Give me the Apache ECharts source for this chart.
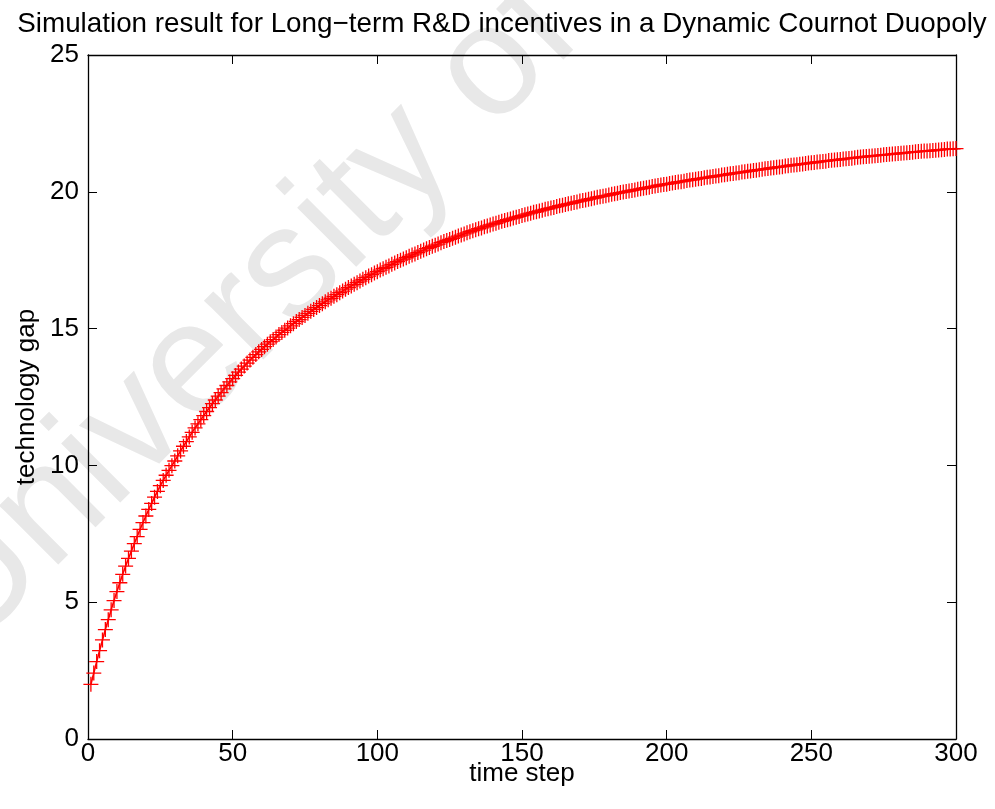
<!DOCTYPE html>
<html>
<head>
<meta charset="utf-8">
<title>Technology gap simulation</title>
<script src="https://cdn.jsdelivr.net/npm/echarts@6/dist/echarts.min.js"></script>
<style>
  html, body { margin: 0; padding: 0; background: #fff; }
  #chart { width: 995px; height: 809px; }
</style>
</head>
<body>
<div id="chart"></div>
<script>
// Technology gap at each simulated time step (steps 1..300)
const technologyGap = [
  2.00, 2.41, 2.83, 3.23, 3.62, 4.00, 4.36, 4.72, 5.06, 5.39,
  5.71, 6.02, 6.32, 6.60, 6.87, 7.14, 7.40, 7.66, 7.91, 8.15,
  8.39, 8.61, 8.84, 9.05, 9.26, 9.45, 9.64, 9.82, 9.99, 10.16,
  10.35, 10.53, 10.70, 10.87, 11.04, 11.21, 11.37, 11.52, 11.67, 11.82,
  11.97, 12.11, 12.26, 12.39, 12.53, 12.66, 12.80, 12.92, 13.05, 13.17,
  13.29, 13.41, 13.52, 13.63, 13.74, 13.85, 13.95, 14.05, 14.15, 14.24,
  14.34, 14.43, 14.52, 14.60, 14.69, 14.78, 14.86, 14.94, 15.02, 15.10,
  15.18, 15.26, 15.33, 15.41, 15.48, 15.56, 15.63, 15.70, 15.77, 15.84,
  15.91, 15.98, 16.05, 16.11, 16.18, 16.24, 16.31, 16.37, 16.44, 16.50,
  16.56, 16.62, 16.68, 16.74, 16.80, 16.86, 16.92, 16.97, 17.03, 17.08,
  17.14, 17.19, 17.24, 17.29, 17.35, 17.40, 17.45, 17.50, 17.54, 17.59,
  17.64, 17.69, 17.73, 17.78, 17.83, 17.87, 17.92, 17.96, 18.01, 18.05,
  18.09, 18.14, 18.18, 18.22, 18.26, 18.30, 18.34, 18.38, 18.42, 18.46,
  18.50, 18.54, 18.58, 18.61, 18.65, 18.68, 18.72, 18.75, 18.79, 18.82,
  18.85, 18.89, 18.92, 18.95, 18.98, 19.01, 19.04, 19.07, 19.10, 19.13,
  19.16, 19.19, 19.22, 19.25, 19.27, 19.30, 19.33, 19.36, 19.38, 19.41,
  19.43, 19.46, 19.49, 19.51, 19.54, 19.56, 19.58, 19.61, 19.63, 19.66,
  19.68, 19.70, 19.73, 19.75, 19.77, 19.80, 19.82, 19.84, 19.86, 19.88,
  19.91, 19.93, 19.95, 19.97, 19.99, 20.01, 20.03, 20.05, 20.07, 20.09,
  20.11, 20.13, 20.15, 20.17, 20.19, 20.21, 20.23, 20.25, 20.27, 20.28,
  20.30, 20.32, 20.34, 20.36, 20.37, 20.39, 20.41, 20.43, 20.44, 20.46,
  20.48, 20.49, 20.51, 20.53, 20.54, 20.56, 20.58, 20.59, 20.61, 20.62,
  20.64, 20.66, 20.67, 20.69, 20.70, 20.72, 20.73, 20.75, 20.76, 20.78,
  20.79, 20.81, 20.82, 20.84, 20.85, 20.87, 20.88, 20.90, 20.91, 20.92,
  20.94, 20.95, 20.97, 20.98, 20.99, 21.01, 21.02, 21.03, 21.05, 21.06,
  21.07, 21.09, 21.10, 21.11, 21.12, 21.14, 21.15, 21.16, 21.17, 21.18,
  21.20, 21.21, 21.22, 21.23, 21.24, 21.26, 21.27, 21.28, 21.29, 21.30,
  21.31, 21.32, 21.33, 21.34, 21.35, 21.36, 21.37, 21.38, 21.39, 21.40,
  21.41, 21.42, 21.43, 21.44, 21.45, 21.46, 21.47, 21.48, 21.49, 21.49,
  21.50, 21.51, 21.52, 21.53, 21.54, 21.55, 21.56, 21.56, 21.57, 21.58
];
const firstStep = 1;

const xTicks = { min: 0, max: 300, interval: 50 };
const yTicks = { min: 0, max: 25, interval: 5 };

const titleText = 'Simulation result for Long\u2212term R&D incentives in a Dynamic Cournot Duopoly';
const xName = 'time step';
const yName = 'technology gap';
const watermarkText = 'University of';

const FONT = "'Liberation Sans', Arial, Helvetica, sans-serif";
const points = technologyGap.map((v, i) => [firstStep + i, v]);

const chart = echarts.init(document.getElementById('chart'), null, { renderer: 'canvas' });

function frameAxis(pos, ticks, extra) {
  return Object.assign({
    type: 'value',
    position: pos,
    min: ticks.min,
    max: ticks.max,
    interval: ticks.interval,
    axisLine: { show: true, onZero: false, lineStyle: { color: '#000', width: 1.3 } },
    axisTick: { show: true, inside: true, length: 9, lineStyle: { color: '#000', width: 1 } },
    splitLine: { show: false },
    axisLabel: { show: false }
  }, extra || {});
}

chart.setOption({
  animation: false,
  backgroundColor: '#fff',
  title: {
    text: titleText,
    left: 497,
    textAlign: 'center',
    top: 5,
    textStyle: { fontFamily: FONT, fontSize: 27.8, fontWeight: 'normal', color: '#000' }
  },
  graphic: [{
    type: 'text',
    silent: true,
    z: -10,
    x: -61,
    y: 622,
    rotation: 0.785,
    style: {
      text: watermarkText,
      font: "158px 'Liberation Sans', Arial, sans-serif",
      fill: '#e8e8e8',
      align: 'left',
      verticalAlign: 'middle'
    }
  }],
  grid: { left: 88, top: 55, width: 868, height: 684, containLabel: false },
  xAxis: [
    frameAxis('bottom', xTicks, {
      name: xName,
      nameLocation: 'middle',
      nameGap: 22,
      nameMoveOverlap: false,
      nameTextStyle: { fontFamily: FONT, fontSize: 26, color: '#000', verticalAlign: 'top' },
      axisLabel: { show: true, color: '#000', fontFamily: FONT, fontSize: 26, margin: 2 }
    }),
    frameAxis('top', xTicks)
  ],
  yAxis: [
    frameAxis('left', yTicks, {
      name: yName,
      nameLocation: 'middle',
      nameGap: 48,
      nameRotate: 90,
      nameMoveOverlap: false,
      nameTextStyle: { fontFamily: FONT, fontSize: 26, color: '#000' },
      axisLabel: { show: true, color: '#000', fontFamily: FONT, fontSize: 26, margin: 9 }
    }),
    frameAxis('right', yTicks)
  ],
  series: [{
    type: 'line',
    xAxisIndex: 0,
    yAxisIndex: 0,
    data: points,
    symbol: 'path://M5 0L5 10M0 5L10 5',
    symbolSize: 15,
    showSymbol: true,
    clip: false,
    itemStyle: { color: 'rgba(0,0,0,0)', borderColor: '#ff0000', borderWidth: 1.3 },
    lineStyle: { color: '#ff0000', width: 1.6 },
    emphasis: { disabled: true }
  }]
});
</script>
</body>
</html>
